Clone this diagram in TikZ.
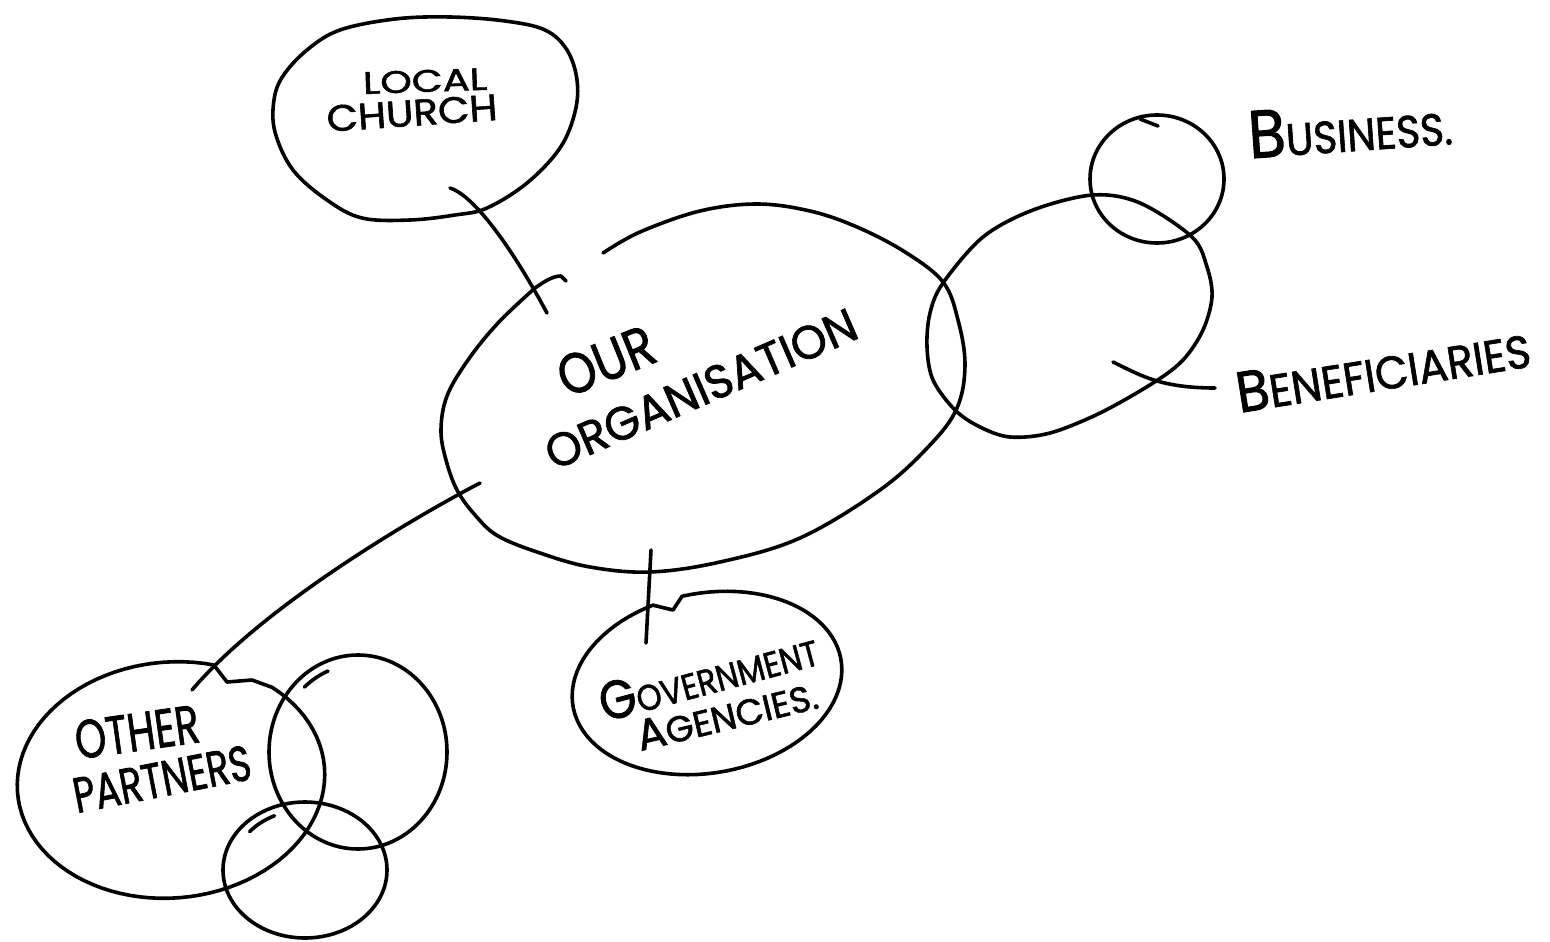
\documentclass[tikz,border=0pt]{standalone}
\usepackage{fontspec}
\usepackage{graphicx}
\newfontfamily\hand[FakeBold=1.5]{Poppins}
\begin{document}
\begin{tikzpicture}[x=1pt,y=-1pt,
  sk/.style={line width=3.6pt, line cap=round, line join=round},
  lbl/.style={inner sep=0pt, font=\hand}]
\useasboundingbox (0,0) rectangle (1550,942);

% ---------- Our organisation (open ellipse with flick) ----------
\coordinate (org) at (702,388);
\draw[sk] plot[smooth, tension=0.6] coordinates {(603,253) (640,232) (700,211) (757,204) (810,211) (857,227) (905,252) (943,282) (958,320) (965,365) (957,408) (930,445) (880,490) (800,538) (720,562) (650,572) (590,567) (540,553) (498,536) (475,515) (457,490) (446,460) (441,430) (447,396) (468,360) (498,323) (535,288)}
  .. controls (545,281) and (553,276) .. (561,276) -- (566,281);
\node[lbl, rotate=22] (tOur) at (606,361) {\resizebox{100pt}{40pt}{OUR}};
\node[lbl, rotate=23.5] (tOrg) at (701,389) {\resizebox{335pt}{33pt}{ORGANISATION}};

% ---------- Local church ----------
\coordinate (church) at (425,119);
\draw[sk] plot[smooth cycle, tension=0.6] coordinates {(450,17) (505,21) (545,30) (567,50) (577,80) (575,112) (560,148) (527,183) (487,208) (455,215) (410,220) (362,218) (327,200) (293,170) (275,132) (274,100) (283,76) (307,50) (340,30) (395,19)};
\node[lbl, rotate=2] (tLocal) at (425,81) {\resizebox{124pt}{22pt}{LOCAL}};
\node[lbl, rotate=4] (tChurch) at (412,113) {\resizebox{171pt}{26pt}{CHURCH}};

% ---------- Beneficiaries ----------
\coordinate (benef) at (1069,316);
\draw[sk] plot[smooth cycle, tension=0.55] coordinates {(1093,195) (1140,203) (1192,237) (1207,267) (1212,297) (1203,330) (1183,360) (1153,383) (1100,413) (1050,433) (1010,437) (980,427) (955,410) (933,380) (927,347) (930,313) (943,283) (983,237) (1033,210)};
\node[lbl, rotate=9] (tBenef) at (1383,370) {\resizebox{297pt}{40pt}{\scalebox{1.25}{B}ENEFICIARIES}};

% ---------- Business ----------
\coordinate (business) at (1157,179);
\draw[sk] (business) ellipse [x radius=67pt, y radius=64pt];
\draw[sk] (1140,119) -- (1158,126);
\node[lbl, rotate=4] (tBus) at (1350,128) {\resizebox{204pt}{47pt}{\scalebox{1.5}{B}USINESS.}};

% ---------- Government agencies ----------
\coordinate (gov) at (707,683);
\draw[sk] plot[domain=107:454, samples=90] ({707+136*cos(\x)*cos(10)-90*sin(\x)*sin(10)}, {683-136*cos(\x)*sin(10)-90*sin(\x)*cos(10)}) -- (673,610) -- cycle;
\node[lbl, rotate=15] (tGov) at (708,675) {\resizebox{224pt}{38pt}{\scalebox{1.5}{G}OVERNMENT}};
\node[lbl, rotate=13.5] (tAg) at (727,715) {\resizebox{185pt}{30pt}{\scalebox{1.2}{A}GENCIES.}};

% ---------- Other partners ----------
\coordinate (partners) at (171,780);
\draw[sk] plot[domain=70:405, samples=90] ({171+154*cos(\x)*cos(5)-118*sin(\x)*sin(5)}, {780-154*cos(\x)*sin(5)-118*sin(\x)*cos(5)}) -- (252,680) -- (227,682) -- cycle;
\coordinate (p2) at (358,752);
\draw[sk] (p2) ellipse [x radius=89pt, y radius=97pt];
\draw[sk] plot[domain=112:132, samples=12] ({358+0.9*89*cos(\x)}, {752-0.9*97*sin(\x)});
\coordinate (p3) at (305,870);
\draw[sk] (p3) ellipse [x radius=82pt, y radius=68pt];
\draw[sk] plot[domain=115:140, samples=12] ({305+0.88*82*cos(\x)}, {870-0.88*68*sin(\x)});
\node[lbl, rotate=8] (tOther) at (137,732) {\resizebox{125pt}{38pt}{OTHER}};
\node[lbl, rotate=11] (tPart) at (162,779) {\resizebox{180pt}{35pt}{PARTNERS}};

% ---------- Connectors ----------
\coordinate (cChurchA) at (450,188);
\coordinate (cChurchB) at (547,313);
\draw[sk] (cChurchA) .. controls (470,194) and (505,235) .. (cChurchB);

\coordinate (cPartA) at (480,483);
\coordinate (cPartB) at (192,690);
\draw[sk] (cPartA) .. controls (400,525) and (260,610) .. (cPartB);

\coordinate (cGovA) at (651,550);
\coordinate (cGovB) at (646,643);
\draw[sk] (cGovA) -- (cGovB);

\coordinate (cBenA) at (1113,362);
\coordinate (cBenB) at (1215,388);
\draw[sk] (cBenA) .. controls (1140,375) and (1160,388) .. (cBenB);
\end{tikzpicture}
\end{document}
